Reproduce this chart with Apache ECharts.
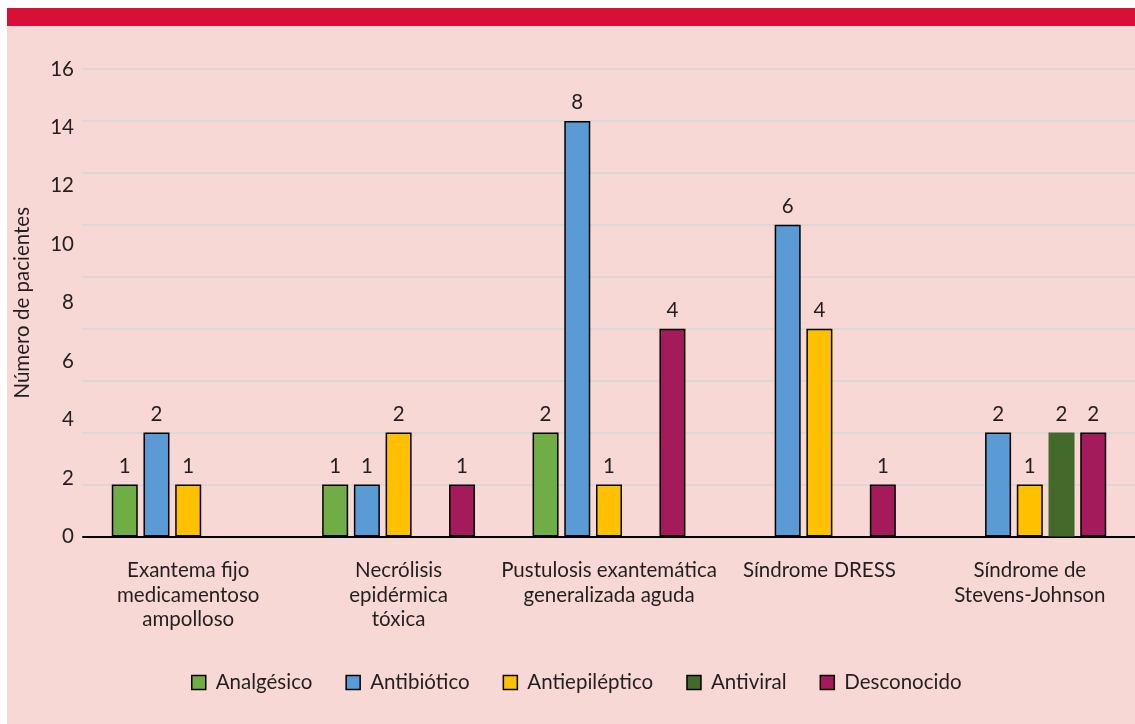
<!DOCTYPE html>
<html>
<head>
<meta charset="utf-8">
<script src="https://cdn.jsdelivr.net/npm/echarts@6/dist/echarts.min.js"></script>
<style>
  html, body { margin: 0; padding: 0; background: #ffffff; }
  #wrap { position: relative; width: 1135px; height: 724px; overflow: hidden; }
  #panel { position: absolute; left: 7px; top: 26px; width: 1128px; height: 698px; background: #f7d8d4; }
  #band { position: absolute; left: 7px; top: 8px; width: 1128px; height: 18px; background: #d90f38; }
  #chart { position: absolute; left: 0; top: 0; width: 1135px; height: 724px; }
</style>
</head>
<body>
<div id="wrap">
  <div id="panel"></div>
  <div id="band"></div>
  <div id="chart"></div>
</div>
<script>
// Reacciones cutáneas graves por grupo de fármaco
const categories = [
  'Exantema fijo\nmedicamentoso\nampolloso',
  'Necrólisis\nepidérmica\ntóxica',
  'Pustulosis exantemática\ngeneralizada aguda',
  'Síndrome DRESS',
  'Síndrome de\nStevens-Johnson'
];
const seriesNames = ['Analgésico', 'Antibiótico', 'Antiepiléptico', 'Antiviral', 'Desconocido'];
const analgesico     = [1, 1, 2, null, null];
const antibiotico    = [2, 1, 8, 6, 2];
const antiepileptico = [1, 2, 1, 4, 1];
const antiviral      = [null, null, null, null, 2];
const desconocido    = [null, 1, 4, 1, 2];
// Etiquetas del eje vertical
const yTickMin = 0, yTickMax = 16, yTickStep = 2;
// Rejilla de valores (una línea por paciente)
const countMax = 9;

const colors = ['#70ad47', '#5b9bd5', '#ffc000', '#436a2b', '#a41a5a'];
const values = [analgesico, antibiotico, antiepileptico, antiviral, desconocido];
const FONT = 'Lato';
const FS = 20.5;
const TXT = '#231f20';

const chart = echarts.init(document.getElementById('chart'), null, { renderer: 'canvas' });

const series = seriesNames.map((name, i) => ({
  name,
  type: 'bar',
  yAxisIndex: 0,
  data: values[i],
  barWidth: 26,
  barGap: '22%',
  itemStyle: {
    color: colors[i],
    borderColor: '#000',
    borderWidth: name === 'Antiviral' ? 0 : 1.5
  },
  label: {
    show: true,
    position: 'top',
    distance: 8,
    fontFamily: FONT,
    fontSize: FS,
    color: TXT
  }
}));

chart.setOption({
  animation: false,
  color: colors,
  textStyle: { fontFamily: FONT },
  grid: { left: 83, right: 0, top: 69, bottom: 187.5, containLabel: false },
  legend: {
    data: seriesNames,
    top: 667,
    left: 186,
    itemWidth: 14,
    itemHeight: 14,
    itemGap: 33,
    icon: 'rect',
    itemStyle: { borderColor: '#000', borderWidth: 1.5 },
    textStyle: { fontFamily: FONT, fontSize: FS, color: TXT, padding: [0, 0, 0, 5] }
  },
  xAxis: {
    type: 'category',
    data: categories,
    axisLine: { lineStyle: { color: '#000', width: 2 } },
    axisTick: { show: false },
    splitLine: { show: false },
    axisLabel: {
      interval: 0,
      margin: 22,
      fontFamily: FONT,
      fontSize: FS,
      lineHeight: 24.5,
      color: TXT
    }
  },
  yAxis: [
    {
      type: 'value',
      min: 0,
      max: countMax,
      interval: 1,
      axisLine: { show: false },
      axisTick: { show: false },
      axisLabel: { show: false },
      splitLine: { lineStyle: { color: '#dcd8d8', width: 2 } }
    },
    {
      type: 'value',
      position: 'left',
      min: yTickMin,
      max: yTickMax,
      interval: yTickStep,
      axisLine: { show: false },
      axisTick: { show: false },
      splitLine: { show: false },
      axisLabel: { margin: 9, fontFamily: FONT, fontSize: FS, color: TXT },
      name: 'Número de pacientes',
      nameLocation: 'middle',
      nameRotate: 90,
      nameGap: 50,
      nameTextStyle: { fontFamily: FONT, fontSize: FS, color: TXT }
    }
  ],
  series
});
</script>
</body>
</html>
